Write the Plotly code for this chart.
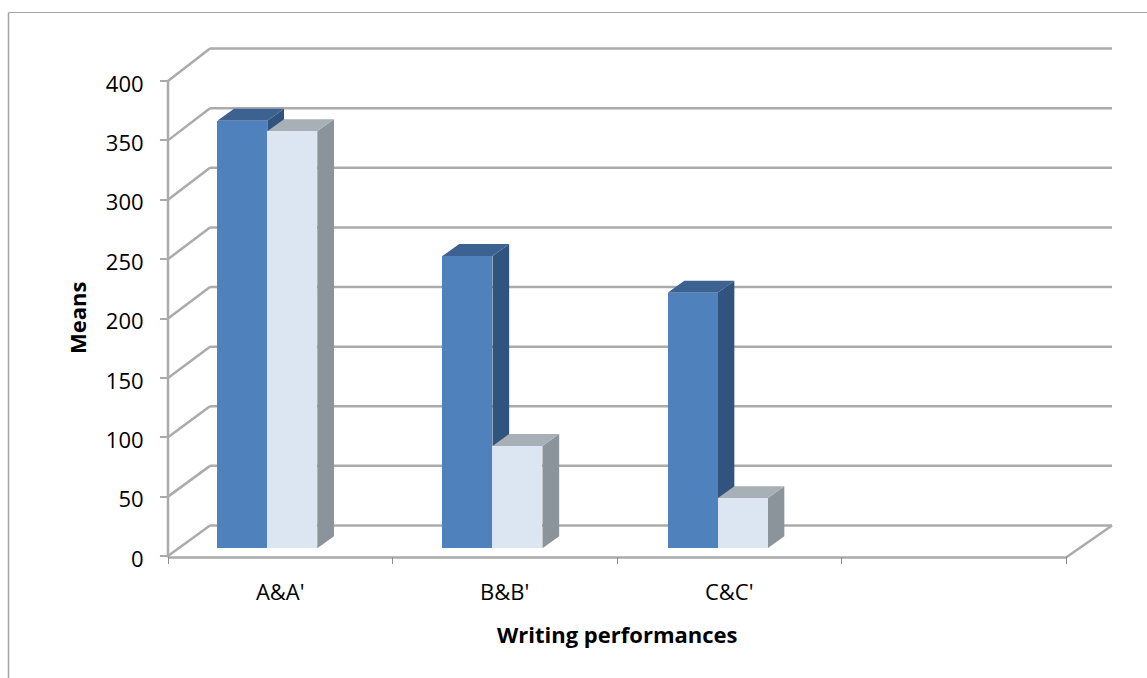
import plotly.graph_objects as go

# Chart data
categories = ["A&A'", "B&B'", "C&C'"]
first_means = [360, 246, 215]
second_means = [351, 86, 42]
y_ticks = [0, 50, 100, 150, 200, 250, 300, 350, 400]
x_slots = [0, 1, 2, 3, 4]

# Colours
BLUE, BLUE_TOP, BLUE_SIDE = "#4F81BD", "#3B6291", "#31547F"
PALE, PALE_TOP, PALE_SIDE = "#DCE6F2", "#A7AFB7", "#8B939B"
GRID = "#ABABAB"
TICK = "#8C8C8C"
BORDER = "#A3A3A3"
TEXT = "#000000"

# Oblique projection, in axis units
WALL_DX, WALL_X_SCALE = 0.187, 1.0045
WALL_DY, WALL_SCALE = 25.7, 1.004
BAR_LEFT, BAR_WIDTH, BAR_STEP = 0.2196, 0.2227, 1.003
BAR_BASE = 6.6
BAR_DX, BAR_DY = 0.0744, 10.1
FLOOR_DROP = -1.3

# Page pixels: the axes cross at (168, 556), one slot is 224.5 px, one unit is 1.1875 px
WIDTH, HEIGHT = 1147, 678
ORIGIN_X, ORIGIN_Y = 168, 556
SLOT_PX, UNIT_PX = 224.5, 1.1875
L, R, T, B = 150, 25, 40, 110
plot_w, plot_h = WIDTH - L - R, HEIGHT - T - B
X_RANGE = [(L - ORIGIN_X) / SLOT_PX, (WIDTH - R - ORIGIN_X) / SLOT_PX]
Y_RANGE = [(ORIGIN_Y - (HEIGHT - B)) / UNIT_PX, (ORIGIN_Y - T) / UNIT_PX]


def page_x(px):
    return (px - L) / plot_w


def page_y(py):
    return 1 - (py - T) / plot_h


def wall_x(x):
    return x * WALL_X_SCALE + WALL_DX


def wall_y(v):
    return v * WALL_SCALE + WALL_DY


def bar_x0(i, offset):
    return i * BAR_STEP + BAR_LEFT + offset


def poly(points, color):
    path = "M " + " L ".join(f"{x:.4f} {y:.3f}" for x, y in points) + " Z"
    return dict(type="path", path=path, xref="x", yref="y", layer="below",
                fillcolor=color, line=dict(width=0))


shapes = []
# Horizontal grid lines along the back wall
for v in y_ticks:
    shapes.append(dict(type="line", xref="x", yref="y", layer="below",
                       x0=wall_x(0), x1=wall_x(x_slots[-1]), y0=wall_y(v), y1=wall_y(v),
                       line=dict(color=GRID, width=2.5)))

# Receding faces of each column
for offset, values, top, side in [(0, first_means, BLUE_TOP, BLUE_SIDE),
                                  (BAR_WIDTH, second_means, PALE_TOP, PALE_SIDE)]:
    for i, v in enumerate(values):
        x0 = bar_x0(i, offset)
        x1 = x0 + BAR_WIDTH
        y1 = BAR_BASE + v
        shapes.append(poly([(x1, BAR_BASE), (x1 + BAR_DX, BAR_BASE + BAR_DY),
                            (x1 + BAR_DX, y1 + BAR_DY), (x1, y1)], side))
        shapes.append(poly([(x0, y1), (x0 + BAR_DX, y1 + BAR_DY),
                            (x1 + BAR_DX, y1 + BAR_DY), (x1, y1)], top))

# Outer chart frame: top and left edges only
shapes.append(dict(type="line", xref="paper", yref="paper", x0=page_x(8.5), x1=page_x(1147),
                   y0=page_y(12.5), y1=page_y(12.5), line=dict(color=BORDER, width=1)))
shapes.append(dict(type="line", xref="paper", yref="paper", x0=page_x(8.5), x1=page_x(8.5),
                   y0=page_y(12.5), y1=page_y(678), line=dict(color=BORDER, width=1.5)))

fig = go.Figure()

# Front faces of the columns
for offset, values, color, name in [(0, first_means, BLUE, "A, B, C"),
                                    (BAR_WIDTH, second_means, PALE, "A', B', C'")]:
    fig.add_bar(x=[bar_x0(i, offset) + BAR_WIDTH / 2 for i in range(len(values))],
                y=values, base=BAR_BASE, width=BAR_WIDTH, name=name,
                marker=dict(color=color, line=dict(width=0)), showlegend=False, hoverinfo="skip")


def frame_line(xs, ys):
    fig.add_scatter(x=xs, y=ys, mode="lines", line=dict(color=GRID, width=2.5),
                    cliponaxis=False, showlegend=False, hoverinfo="skip")


# Vertical axis, floor edge and the slanted side-wall lines
frame_line([0, 0], [FLOOR_DROP, y_ticks[-1]])
frame_line([0, x_slots[-1], wall_x(x_slots[-1])], [FLOOR_DROP, FLOOR_DROP, wall_y(0)])
for v in y_ticks:
    frame_line([0, wall_x(0)], [v, wall_y(v)])

FAMILY = "Open Sans, Lato, sans-serif"
font = dict(family=FAMILY, size=22, color=TEXT)

fig.update_layout(
    width=WIDTH, height=HEIGHT,
    margin=dict(l=L, r=R, t=T, b=B, pad=0),
    paper_bgcolor="white", plot_bgcolor="white",
    barmode="overlay", bargap=0,
    shapes=shapes,
    xaxis=dict(range=X_RANGE, anchor="free", position=page_y(ORIGIN_Y),
               showgrid=False, zeroline=False, showline=False,
               tickmode="array", tickvals=[i + 0.5 for i in range(len(categories))],
               ticktext=categories, ticks="", ticklabelstandoff=21, tickfont=font,
               minor=dict(tickmode="array", tickvals=x_slots, ticks="outside",
                          ticklen=7, tickwidth=1, tickcolor=TICK, showgrid=False)),
    yaxis=dict(range=Y_RANGE, anchor="free", position=page_x(ORIGIN_X),
               showgrid=False, zeroline=False, showline=False,
               tickmode="array", tickvals=y_ticks, ticks="outside", ticklen=8,
               tickwidth=2, tickcolor=GRID, tickfont=font, ticklabelstandoff=12,
               ticklabelshift=3),
    annotations=[
        dict(text="<b>Writing performances</b>", xref="paper", yref="paper",
             x=page_x(617), y=page_y(634), xanchor="center", yanchor="middle",
             showarrow=False, font=font),
        dict(text="<b>Means</b>", xref="paper", yref="paper",
             x=page_x(77), y=page_y(318), xanchor="center", yanchor="middle",
             showarrow=False, textangle=-90, font=font),
    ],
)

fig.write_html("out.html")
